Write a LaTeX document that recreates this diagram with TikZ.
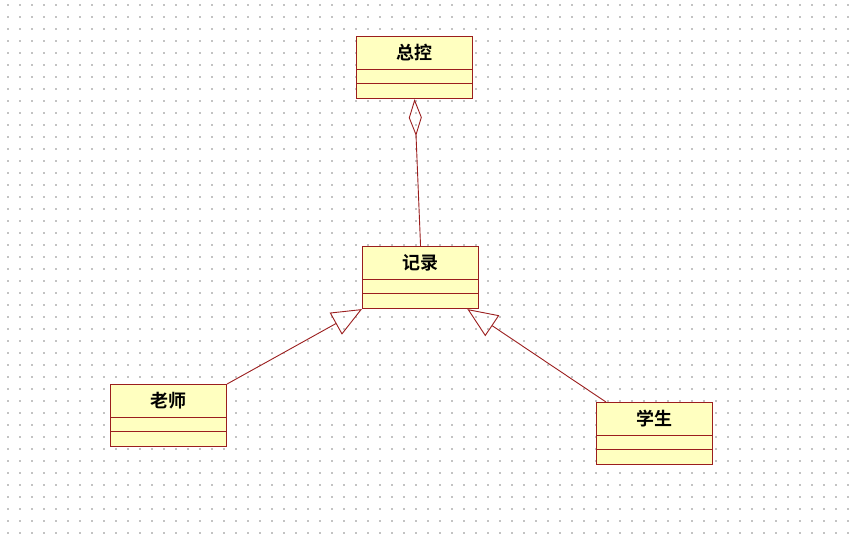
\documentclass[tikz,border=0pt]{standalone}
\usepackage{fontspec}
\newfontfamily\cjk{Noto Sans CJK SC}[BoldFont={Noto Sans CJK SC Bold}]
\usetikzlibrary{arrows.meta, calc}
\definecolor{colFill}{RGB}{255,255,192}
\definecolor{colBorder}{RGB}{155,30,30}
\definecolor{colDot}{RGB}{195,195,195}
\tikzset{
  classbox/.style={
    rectangle, draw=colBorder, fill=colFill, line width=1.1pt,
    inner xsep=0pt, inner ysep=7pt,
    text height=16pt, text depth=32pt,
    minimum width=116pt, minimum height=62pt, anchor=north west,
    font=\cjk\bfseries\fontsize{18pt}{18pt}\selectfont,
    path picture={
      \draw[colBorder, line width=1.1pt]
        ($(path picture bounding box.north west)+(0,33)$) -- ++(120,0)
        ($(path picture bounding box.north west)+(0,47)$) -- ++(120,0);
    }
  },
  aggr/.style={
    {Diamond[open, length=37pt, width=13pt]}-, line width=0.9pt, color=colBorder
  },
  gen/.style={
    -{Triangle[open, length=30pt, width=25pt]}, line width=0.9pt, color=colBorder
  }
}

\begin{document}
\begin{tikzpicture}[x=1pt, y=-1pt]

  % background with dot grid
  \fill[white] (0,0) rectangle (853,534);
  \useasboundingbox (0,0) rectangle (853,534);
  \foreach \i in {0,...,70} {
    \foreach \j in {0,...,44} {
      \fill[colDot] (8+12*\i-0.8, 5+12*\j-0.8) rectangle ++(1.6,1.6);
    }
  }

  \node[classbox] (zongkong) at (356,36) {总控};
  \node[classbox] (jilu) at (362,246) {记录};
  \node[classbox] (laoshi) at (110,384) {老师};
  \node[classbox] (xuesheng) at (596,402) {学生};

  % 总控 <>-- 记录
  \draw[aggr] (zongkong.south) -- (jilu.north);

  % 老师 -> 记录
  \draw[gen] (laoshi.north east) -- (jilu.south west);

  % 学生 -> 记录
  \draw[gen] ($(xuesheng.north west)!0.085!(xuesheng.north east)$)
    -- ($(jilu.south west)!0.9!(jilu.south east)$);

\end{tikzpicture}
\end{document}
